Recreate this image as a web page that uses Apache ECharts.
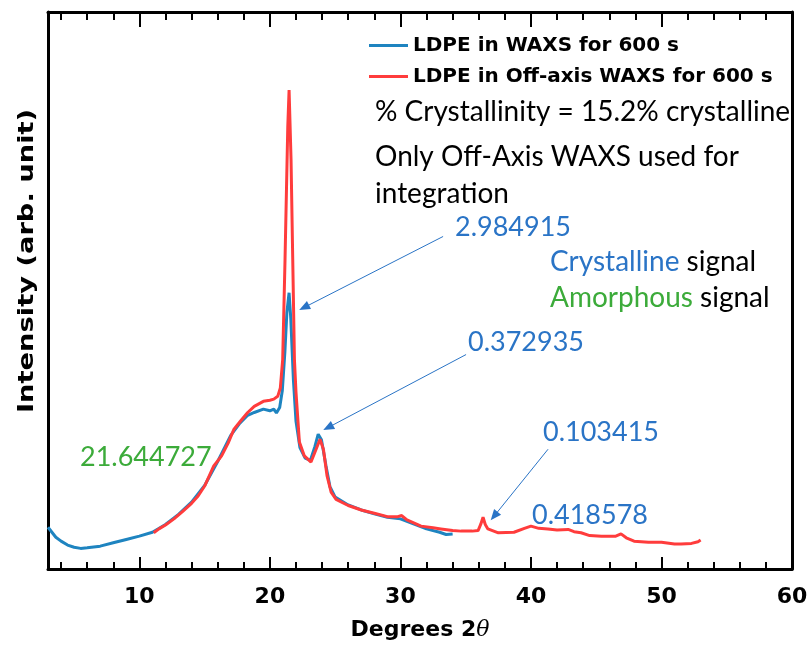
<!DOCTYPE html>
<html>
<head>
<meta charset="utf-8">
<script src="https://cdn.jsdelivr.net/npm/echarts@6/dist/echarts.min.js"></script>
<style>html,body{margin:0;padding:0;background:#fff}#c{width:811px;height:646px}</style>
</head>
<body>
<div id="c"></div>
<script>
// ---- data (2θ in degrees, intensity in arbitrary units) ----
const blueName = 'LDPE in WAXS for 600 s';
const redName = 'LDPE in Off-axis WAXS for 600 s';
const blueX = [3.0,3.3,3.6,4.0,4.5,5.0,5.5,6.0,7.0,8.0,9.0,10.0,11.0,12.0,13.0,14.0,15.0,16.0,17.0,17.7,18.3,18.8,19.5,20.0,20.3,20.5,20.75,20.95,21.15,21.3,21.47,21.6,21.8,22.0,22.3,22.7,23.1,23.45,23.7,23.95,24.3,24.6,25.0,26.0,27.0,28.0,29.0,30.0,31.0,32.0,33.0,33.5,34.0];
const blueY = [7.5,6.6,5.7,5.0,4.3,3.9,3.7,3.8,4.1,4.7,5.3,5.9,6.6,8.0,9.8,12.0,15.0,19.3,24.0,26.2,27.6,28.1,28.7,28.4,28.7,28.0,29.0,32.0,39.0,46.0,49.6,45.0,34.0,26.5,21.8,19.9,19.5,22.0,24.2,23.2,18.5,14.8,12.9,11.5,10.6,9.9,9.3,9.0,8.1,7.2,6.6,6.2,6.3];
const redX = [11.1,11.5,12.0,12.65,13.3,14.0,14.5,15.0,15.7,16.3,16.8,17.25,17.8,18.3,18.8,19.5,20.0,20.3,20.6,20.8,20.98,21.16,21.37,21.47,21.62,21.75,21.88,22.0,22.26,22.64,23.15,23.54,23.84,24.1,24.38,24.69,25.07,26.0,27.0,28.0,29.0,29.8,30.1,30.5,31.58,32.5,33.1,34.0,34.65,35.5,35.95,36.15,36.33,36.5,36.7,37.5,38.7,39.5,40.0,40.6,41.3,42.0,42.85,43.3,43.84,44.5,45.4,46.5,46.9,47.3,47.9,49.0,50.0,51.0,51.5,52.3,52.8,53.0];
const redY = [6.5,7.2,7.9,9.0,10.3,11.8,13.1,14.9,18.5,20.3,22.6,25.1,26.7,28.1,29.2,30.1,30.3,30.5,31.0,32.5,37.6,55.6,79.4,86.0,73.5,55.6,37.6,31.7,22.8,20.3,19.2,21.5,23.3,21.5,16.7,13.8,12.5,11.4,10.6,10.0,9.4,9.4,9.6,8.8,7.7,7.4,7.2,6.9,6.8,6.8,6.9,8.0,9.3,8.0,7.2,6.5,6.6,7.3,7.7,7.3,7.2,7.0,7.1,6.7,6.5,6.0,5.9,5.9,6.3,5.6,5.0,4.8,4.8,4.5,4.5,4.6,4.9,5.2];
const majorTicks = [10,20,30,40,50,60];
const minorTicks = [4,6,8,12,14,16,18,22,24,26,28,32,34,36,38,42,44,46,48,52,54,56,58];
// annotation arrows: [fromX, fromY, toX, toY] in data units
const arrows = [[33.27,59.7,22.62,46.95],[35.03,38.5,24.46,25.4],[41.31,21.5,37.18,9.5]];

const BLUE = '#1e84c0', RED = '#ff3c3c', ANN_BLUE = '#2a74c6', ANN_GREEN = '#3cab3a';
const zip = (xs, ys) => xs.map((x, i) => [x, ys[i]]);
const HEAVY = '"DejaVu Sans", sans-serif';
const ANN = 'Lato, "Open Sans", sans-serif';

const chart = echarts.init(document.getElementById('c'), null, {renderer: 'canvas'});
const baseX = {type: 'value', min: 3, max: 60, splitLine: {show: false}, gridIndex: 0};
const annText = (text, x, y, fill, size) => ({
  type: 'text', x: x, y: y, silent: true, z: 100,
  style: {text: text, fill: fill, font: (size || 28) + 'px ' + ANN, verticalAlign: 'middle', align: 'left'}
});
chart.setOption({
  animation: false,
  backgroundColor: '#fff',
  grid: {left: 48, right: 19, top: 12, bottom: 76, containLabel: false},
  legend: {
    orient: 'vertical', left: 364, top: 29, itemWidth: 39, itemHeight: 3, itemGap: 8, icon: 'rect',
    textStyle: {fontFamily: HEAVY, fontWeight: 'bold', fontSize: 20, color: '#000', lineHeight: 23},
    data: [blueName, redName]
  },
  xAxis: [
    Object.assign({}, baseX, {
      position: 'bottom',
      axisLine: {lineStyle: {color: '#000', width: 3}},
      axisTick: {inside: true, length: 12, customValues: majorTicks, lineStyle: {color: '#000', width: 2}},
      axisLabel: {customValues: majorTicks, fontFamily: HEAVY, fontWeight: 'bold', fontSize: 22, color: '#000', margin: 17},
      name: '{a|Degrees 2}{b|θ}', nameLocation: 'middle', nameGap: 50,
      nameTextStyle: {rich: {
        a: {fontFamily: HEAVY, fontWeight: 'bold', fontSize: 22, color: '#000'},
        b: {fontFamily: 'DejaVu Serif, serif', fontStyle: 'italic', fontSize: 22, color: '#000'}
      }}
    }),
    Object.assign({}, baseX, {
      position: 'bottom', axisLine: {show: false}, axisLabel: {show: false},
      axisTick: {inside: true, length: 7, customValues: minorTicks, lineStyle: {color: '#000', width: 2}}
    }),
    Object.assign({}, baseX, {
      position: 'top', axisLine: {lineStyle: {color: '#000', width: 3}}, axisLabel: {show: false},
      axisTick: {inside: true, length: 15, customValues: majorTicks, lineStyle: {color: '#000', width: 2}}
    }),
    Object.assign({}, baseX, {
      position: 'top', axisLine: {show: false}, axisLabel: {show: false},
      axisTick: {inside: true, length: 8, customValues: minorTicks, lineStyle: {color: '#000', width: 2}}
    })
  ],
  yAxis: [
    {type: 'value', min: 0, max: 100, position: 'left', axisLine: {show: true, lineStyle: {color: '#000', width: 3}},
     axisTick: {show: false}, axisLabel: {show: false}, splitLine: {show: false}},
    {type: 'value', min: 0, max: 100, position: 'right', axisLine: {show: true, lineStyle: {color: '#000', width: 3}},
     axisTick: {show: false}, axisLabel: {show: false}, splitLine: {show: false}}
  ],
  series: [
    {name: blueName, type: 'line', data: zip(blueX, blueY), showSymbol: false, symbol: 'none',
     lineStyle: {color: BLUE, width: 3}, itemStyle: {color: BLUE}, z: 2},
    {name: redName, type: 'line', data: zip(redX, redY), showSymbol: false, symbol: 'none',
     lineStyle: {color: RED, width: 3}, itemStyle: {color: RED}, z: 3,
     markLine: {
       silent: true, symbol: ['none', 'triangle'], symbolSize: [9, 11], animation: false,
       label: {show: false}, lineStyle: {color: ANN_BLUE, width: 1, type: 'solid'},
       data: arrows.map(a => [{coord: [a[0], a[1]]}, {coord: [a[2], a[3]]}])
     }}
  ],
  graphic: [
    annText('% Crystallinity = 15.2% crystalline', 375, 112, '#000'),
    annText('Only Off-Axis WAXS used for', 375, 157, '#000'),
    annText('integration', 375, 194, '#000'),
    annText('2.984915', 455, 227, ANN_BLUE, 27),
    {type: 'text', x: 550, y: 262, silent: true, z: 100,
     style: {text: '{c|Crystalline} signal', fill: '#000', font: '28px ' + ANN, verticalAlign: 'middle',
             rich: {c: {fill: ANN_BLUE, font: '28px ' + ANN}}}},
    {type: 'text', x: 550, y: 298, silent: true, z: 100,
     style: {text: '{g|Amorphous} signal', fill: '#000', font: '28px ' + ANN, verticalAlign: 'middle',
             rich: {g: {fill: ANN_GREEN, font: '28px ' + ANN}}}},
    annText('0.372935', 468, 342, ANN_BLUE, 27),
    annText('0.103415', 543, 432, ANN_BLUE, 27),
    annText('0.418578', 532, 515, ANN_BLUE, 27),
    annText('21.644727', 80, 457, ANN_GREEN, 27),
    {type: 'text', x: 28, y: 261, rotation: Math.PI / 2, scaleX: 1.3, silent: true, z: 100,
     style: {text: 'Intensity (arb. unit)', fill: '#000', font: 'bold 21px ' + HEAVY, align: 'center', verticalAlign: 'middle'}}
  ]
});
</script>
</body>
</html>
